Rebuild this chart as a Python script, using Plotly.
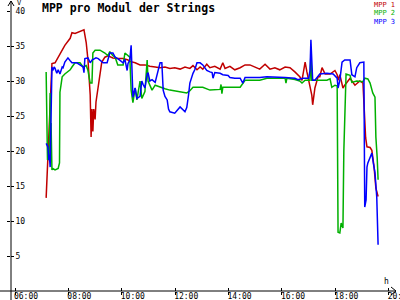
import plotly.graph_objects as go

DAY = "2024-06-01 "

red_t = ["07:10","07:12","07:14","07:16","07:19","07:21","07:23","07:30","07:37","07:46","07:52","08:04","08:08","08:15","08:26","08:35","08:40","08:44","08:49","08:51","08:53","08:55","08:57","09:00","09:02","09:07","09:11","09:15","09:18","09:22","09:29","09:40","09:51","10:03","10:14","10:18","10:30","10:41","10:52","11:03","11:15","11:26","11:37","11:48","11:59","12:11","12:22","12:33","12:40","12:49","12:56","13:02","13:11","13:18","13:29","13:41","13:47","13:52","14:03","14:14","14:26","14:37","14:48","14:59","15:10","15:22","15:33","15:44","15:55","16:07","16:18","16:29","16:40","16:45","16:52","16:56","17:03","17:07","17:09","17:14","17:21","17:25","17:30","17:37","17:48","17:59","18:04","18:06","18:10","18:17","18:21","18:33","18:44","18:55","19:02","19:06","19:08","19:11","19:18","19:22","19:27","19:31","19:34","19:36"]
red_v = [13.3,16.3,20,22.5,27,31,32.5,32.6,33.4,34.5,35.1,36.1,36.9,36.8,37.1,37.3,35.5,33,28,22,26,22.8,26,24.5,27,29.5,31.5,32.7,33,33.4,33.6,33.3,33.2,33.2,33,32.8,32.6,32.3,32.3,32.1,32,31.9,32,31.8,31.9,31.7,32,31.8,32.2,31.6,32,31.7,32.4,31.9,32.1,31.7,32.6,31.8,32.1,31.6,31.9,32.3,32.3,32,31.7,32.4,31.7,31.9,31.6,32,31.9,31.3,30.6,30.1,32.7,31.3,29.3,28,26.6,29,30.6,30.6,31.9,31,31,31.5,30.9,30.1,30.9,29,29.4,30.4,29.4,30,29.7,25,21.9,20.6,20.5,20.1,17.7,14.7,14.1,13.5]

green_t = ["07:10","07:11","07:12","07:13","07:15","07:17","07:19","07:20","07:21","07:23","07:25","07:30","07:37","07:40","07:41","07:44","07:46","07:52","08:04","08:08","08:15","08:26","08:33","08:40","08:44","08:49","08:53","08:55","09:00","09:11","09:22","09:29","09:33","09:40","09:45","09:51","10:03","10:07","10:14","10:18","10:21","10:25","10:30","10:34","10:41","10:45","10:52","10:57","10:59","11:08","11:15","11:26","11:37","11:48","12:11","12:26","12:33","12:40","13:02","13:18","13:41","13:43","13:45","13:47","14:26","14:32","14:37","14:41","15:10","15:26","16:07","16:09","16:11","16:29","16:40","16:45","16:52","17:03","17:05","17:07","17:41","17:48","17:52","17:59","18:04","18:06","18:10","18:13","18:17","18:19","18:24","18:33","18:37","18:48","19:02","19:06","19:13","19:18","19:24","19:29","19:31","19:34","19:36"]
green_v = [31.3,24.5,26,18.7,20.4,19.3,28.3,22,24,17.3,17.5,17.3,17.5,18.3,28.4,29.7,30.6,31,31.6,32,32.6,32.6,32,32.2,31.5,29.7,29.7,34,34.4,34.4,34,33.6,34.2,33.6,33.4,32.3,32.3,34,33.7,33.4,28.7,26.9,29,27.3,30,27.5,28.5,33,30,28.7,29.4,29.1,28.9,28.7,28.5,28.3,28.6,29.1,29.1,28.7,28.8,29.5,28.2,29.1,29.1,29.7,30.1,30.1,30.1,30.4,30.4,29.7,30.4,30.2,30,29.7,30.1,30.1,34,30.1,30.1,30.3,29.1,29.4,29.3,8.4,8.3,9.7,9,20,31,30.8,29.8,30,29.9,30.4,30.3,29.7,28.3,27.7,22,19,15.9]

blue_t = ["07:10","07:12","07:14","07:16","07:17","07:19","07:21","07:23","07:25","07:28","07:30","07:34","07:37","07:41","07:46","07:48","07:52","07:59","08:04","08:08","08:19","08:26","08:33","08:35","08:37","08:44","08:49","08:53","09:02","09:07","09:11","09:18","09:27","09:33","09:40","09:45","09:51","09:56","10:03","10:07","10:12","10:14","10:18","10:21","10:23","10:25","10:30","10:34","10:41","10:45","10:48","10:52","10:57","10:59","11:03","11:08","11:15","11:21","11:26","11:30","11:33","11:37","11:42","11:45","11:48","11:59","12:05","12:11","12:22","12:26","12:30","12:33","12:40","12:44","12:49","12:56","13:02","13:11","13:18","13:23","13:25","13:29","13:41","13:47","13:59","14:03","14:14","14:26","14:32","14:37","15:10","15:26","16:07","16:18","16:29","16:36","16:47","17:00","17:03","17:05","17:07","17:09","17:14","17:21","17:25","17:41","17:55","18:04","18:06","18:10","18:15","18:21","18:33","18:37","18:44","18:48","18:55","19:04","19:06","19:09","19:11","19:13","19:18","19:22","19:26","19:29","19:33","19:36"]
blue_v = [21.1,20.8,20.6,18.7,19.5,17.7,23,32,31.5,32,31.8,31.1,31.6,31,32,31.9,32.7,33.3,32.9,32.6,32.6,32.3,32,31.2,33.2,33.3,32.6,33,33.3,33.2,33,32.6,32.6,34,34,33.4,33.2,33,32.6,33.1,31.5,32.5,33,35.1,30,27.7,29,27.5,27.8,30,29.5,29,31,31.2,30,30.2,29.8,31.6,32.6,32.6,28.7,27.8,27.3,26,25.6,25.4,25.9,26.3,25.6,26.2,28,29.7,31.1,31.6,32.6,32.6,32.3,31.5,31.3,31.2,30.4,31.2,31.1,30.9,30.8,30.5,30.4,30.4,29.7,30.5,30.5,30.6,30.5,30.4,30.4,30.2,30.4,30.4,31.5,35.9,33,30.1,30.1,30.6,31,31.1,31,30.4,29,30.1,32.7,33,33,30.9,30.6,31.9,32.6,32.7,12,13,17.7,18.3,19.1,19.7,18,16.9,13.4,6.6]

series_names = ["MPP 1", "MPP 2", "MPP 3"]
series_colors = ["#c00000", "#00b000", "#0000ff"]

x_ticks = ["06:00", "08:00", "10:00", "12:00", "14:00", "16:00", "18:00", "20:00"]
y_ticks = [5, 10, 15, 20, 25, 30, 35, 40]
title_text = "MPP pro Modul der Strings"
x_range = ["05:51", "20:14"]
y_range = [0, 40]

MONO = "DejaVu Sans Mono"

fig = go.Figure()
for name, col, tt, vv in zip(series_names, series_colors,
                             [red_t, green_t, blue_t], [red_v, green_v, blue_v]):
    fig.add_trace(go.Scatter(x=[DAY + t for t in tt], y=vv, mode="lines",
                             name=name, line=dict(color=col, width=1.5),
                             showlegend=False))
# helper trace for the overlay axes (cross-style ticks)
fig.add_trace(go.Scatter(x=[], y=[], xaxis="x2", yaxis="y2", showlegend=False))

tickfont = dict(family=MONO, size=8, color="black")
fig.update_layout(
    width=400, height=300, autosize=False,
    margin=dict(l=11, r=5, t=11, b=9, pad=0, autoexpand=False),
    paper_bgcolor="white", plot_bgcolor="white",
    xaxis=dict(type="date", range=[DAY + x_range[0], DAY + x_range[1]],
               tickvals=[DAY + t for t in x_ticks], ticktext=x_ticks,
               ticks="outside", ticklen=3, tickcolor="black", tickwidth=1,
               showgrid=False, zeroline=False, showline=False,
               tickfont=tickfont, ticklabelshift=11, ticklabelstandoff=-6,
               ticklabeloverflow="allow", automargin=False),
    xaxis2=dict(type="date", range=[DAY + x_range[0], DAY + x_range[1]],
                overlaying="x", anchor="y", side="bottom",
                tickvals=[DAY + t for t in x_ticks], ticks="inside", ticklen=3,
                tickcolor="black", showticklabels=False, showgrid=False,
                zeroline=False, showline=False, automargin=False),
    yaxis=dict(range=y_range, tickvals=y_ticks, ticks="inside",
               ticklabelposition="inside", ticklen=3, tickcolor="black",
               showgrid=False, zeroline=False, showline=False,
               tickfont=tickfont, ticklabeloverflow="allow", automargin=False),
    yaxis2=dict(range=y_range, overlaying="y", anchor="x", side="left",
                tickvals=y_ticks, ticks="outside", ticklen=3, tickcolor="black",
                showticklabels=False, showgrid=False, zeroline=False,
                showline=False, automargin=False),
)

def px(x):
    return (x - 11) / 384.0

def py(y):
    return (291 - y) / 280.0

line = dict(color="black", width=1)
shapes = [
    # y axis with arrow
    dict(type="line", xref="paper", yref="paper", x0=0, x1=0, y0=py(300), y1=py(1), line=line),
    dict(type="line", xref="paper", yref="paper", x0=px(8), x1=px(11), y0=py(6), y1=py(1), line=line),
    dict(type="line", xref="paper", yref="paper", x0=px(14), x1=px(11), y0=py(6), y1=py(1), line=line),
    # x axis with arrow
    dict(type="line", xref="paper", yref="paper", x0=px(0), x1=px(396), y0=0, y1=0, line=line),
    dict(type="line", xref="paper", yref="paper", x0=px(391), x1=px(396), y0=py(287), y1=py(291), line=line),
    dict(type="line", xref="paper", yref="paper", x0=px(391), x1=px(396), y0=py(295), y1=py(291), line=line),
]
fig.update_layout(shapes=shapes)

ann = [
    dict(text="<b>" + title_text + "</b>", x=px(40), y=py(8), xref="paper", yref="paper",
         xanchor="left", yanchor="middle", showarrow=False,
         font=dict(family=MONO, size=11.5, color="black")),
    dict(text="V", x=px(15), y=py(3), xref="paper", yref="paper",
         xanchor="left", yanchor="middle", showarrow=False,
         font=dict(family=MONO, size=7, color="black")),
    dict(text="h", x=px(386), y=py(281), xref="paper", yref="paper",
         xanchor="center", yanchor="middle", showarrow=False,
         font=dict(family=MONO, size=8, color="black")),
]
for i, (name, col) in enumerate(zip(series_names, series_colors)):
    ann.append(dict(text=name, x=px(396), y=py(4.5 + 9 * i), xref="paper", yref="paper",
                    xanchor="right", yanchor="middle", showarrow=False, borderpad=0,
                    font=dict(family=MONO, size=7, color=col)))
fig.update_layout(annotations=ann)

fig.write_html("out.html")
